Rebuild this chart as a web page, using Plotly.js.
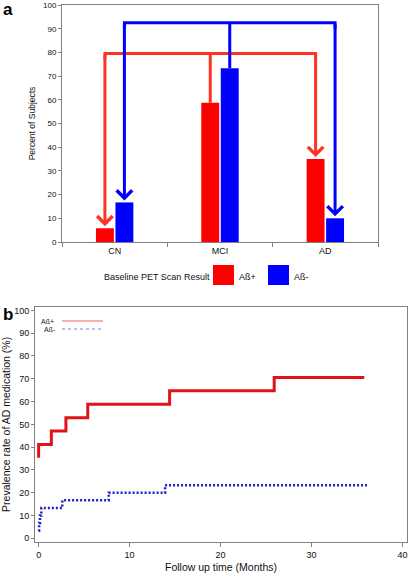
<!DOCTYPE html>
<html><head><meta charset="utf-8">
<script src="https://cdn.plot.ly/plotly-3.0.1.min.js"></script>
<style>html,body{margin:0;padding:0;background:#fff}#chart{width:410px;height:577px}</style>
</head><body><div id="chart"></div>
<script>
// ---------- Panel a data ----------
const groups = ['CN', 'MCI', 'AD'];
const seriesNames = ['Aß+', 'Aß-'];
const abPosPct = [5.8, 58.8, 35.0];
const abNegPct = [16.7, 73.3, 10.0];
const connectorPos = 79.5;   // level of the red connector (percent)
const connectorNeg = 92.5;   // level of the blue connector (percent)

// ---------- Panel b data ----------
const monthsPos = [0, 0, 1.4, 3.0, 5.4, 14.4, 25.9, 35.8];
const ratePos   = [35.3, 41.2, 47.1, 52.9, 58.8, 64.7, 70.6, 70.6];
const monthsNeg = [0, 0.05, 0.15, 0.3, 2.6, 7.7, 13.9, 36.1];
const rateNeg   = [3.3, 6.7, 10.0, 13.3, 16.7, 20.0, 23.3, 23.3];

// ---------- styling ----------
const W = 410, H = 577;
const px = v => v / W, py = v => 1 - v / H;
const FONT = 'Liberation Sans, Arial, sans-serif';
const RED = '#ff0000', BLUE = '#0000ff';
const RED_LINK = '#ff3322', BLUE_LINK = '#0000ff';
const AXC = '#808080';
const BARGAP = 0.63, BARGROUPGAP = 0.08;
const slot = (1 - BARGAP) / 2;
const offPos = -slot / 2, offNeg = slot / 2;
const CORNER = 2.5;

const traces = [
  {type: 'bar', x: groups, y: abPosPct, name: seriesNames[0], marker: {color: RED}, xaxis: 'x', yaxis: 'y', showlegend: false},
  {type: 'bar', x: groups, y: abNegPct, name: seriesNames[1], marker: {color: BLUE}, xaxis: 'x', yaxis: 'y', showlegend: false},
  {type: 'scatter', mode: 'lines', x: monthsPos, y: ratePos, name: seriesNames[0], line: {color: '#e3121a', width: 3, shape: 'hv'}, xaxis: 'x2', yaxis: 'y2', showlegend: false},
  {type: 'scatter', mode: 'lines', x: monthsNeg, y: rateNeg, name: seriesNames[1], line: {color: '#1c1cc8', width: 2.5, shape: 'hv', dash: '2px,2px'}, xaxis: 'x2', yaxis: 'y2', showlegend: false}
];

// connectors (bracket) from MCI to CN and AD
function bracketPath(off, vals, level) {
  const x0 = 0 + off, x1 = 1 + off, x2 = 2 + off;
  return `M ${x0},${level - CORNER} V ${level} H ${x2} V ${level - CORNER} M ${x1},${vals[1]} V ${level}`;
}
const shapes = [
  {type: 'path', xref: 'x', yref: 'y', path: bracketPath(offPos, abPosPct, connectorPos), line: {color: RED_LINK, width: 3}},
  {type: 'path', xref: 'x', yref: 'y', path: bracketPath(offNeg, abNegPct, connectorNeg), line: {color: BLUE_LINK, width: 3}},
  // legend a swatches
  {type: 'rect', xref: 'paper', yref: 'paper', x0: px(213), x1: px(234), y0: py(285), y1: py(265), fillcolor: RED, line: {width: 0}},
  {type: 'rect', xref: 'paper', yref: 'paper', x0: px(268), x1: px(289), y0: py(285), y1: py(265), fillcolor: BLUE, line: {width: 0}},
  // legend b lines
  {type: 'line', xref: 'paper', yref: 'paper', x0: px(62), x1: px(103), y0: py(321), y1: py(321), line: {color: '#ee6666', width: 1}},
  {type: 'line', xref: 'paper', yref: 'paper', x0: px(62), x1: px(103), y0: py(329), y1: py(329), line: {color: '#7777ee', width: 1, dash: 'dot'}}
];

function arrow(xv, yv, level, color) {
  return {x: xv, y: yv, ax: xv, ay: level, xref: 'x', yref: 'y', axref: 'x', ayref: 'y', text: '',
    showarrow: true, arrowhead: 4, arrowsize: 1.0, arrowwidth: 3, arrowcolor: color, standoff: 2};
}
const annotations = [
  arrow(0 + offPos, abPosPct[0], connectorPos, RED_LINK),
  arrow(2 + offPos, abPosPct[2], connectorPos, RED_LINK),
  arrow(0 + offNeg, abNegPct[0], connectorNeg, BLUE_LINK),
  arrow(2 + offNeg, abNegPct[2], connectorNeg, BLUE_LINK),
  // legend a
  {xref: 'paper', yref: 'paper', x: px(102), y: py(277), xanchor: 'left', yanchor: 'middle', showarrow: false, text: 'Baseline PET Scan Result', font: {size: 9, color: '#111'}},
  {xref: 'paper', yref: 'paper', x: px(237), y: py(277), xanchor: 'left', yanchor: 'middle', showarrow: false, text: seriesNames[0], font: {size: 9, color: '#111'}},
  {xref: 'paper', yref: 'paper', x: px(292), y: py(277), xanchor: 'left', yanchor: 'middle', showarrow: false, text: seriesNames[1], font: {size: 9, color: '#111'}},
  // legend b
  {xref: 'paper', yref: 'paper', x: px(39), y: py(321), xanchor: 'left', yanchor: 'middle', showarrow: false, text: seriesNames[0], font: {size: 7, color: '#222'}},
  {xref: 'paper', yref: 'paper', x: px(42), y: py(329), xanchor: 'left', yanchor: 'middle', showarrow: false, text: seriesNames[1], font: {size: 7, color: '#222'}},
  // panel labels
  {xref: 'paper', yref: 'paper', x: px(1), y: py(10), xanchor: 'left', yanchor: 'middle', showarrow: false, text: '<b>a</b>', font: {size: 17, color: '#000'}},
  {xref: 'paper', yref: 'paper', x: px(1), y: py(314), xanchor: 'left', yanchor: 'middle', showarrow: false, text: '<b>b</b>', font: {size: 17, color: '#000'}}
];

const axCommon = {showline: true, linecolor: AXC, linewidth: 1, mirror: true, ticks: 'outside', tickcolor: AXC,
  showgrid: false, zeroline: false, fixedrange: true};

const layout = {
  width: W, height: H,
  margin: {l: 0, r: 0, t: 0, b: 0},
  paper_bgcolor: '#fff', plot_bgcolor: '#fff',
  font: {family: FONT, color: '#111'},
  showlegend: false,
  barmode: 'group', bargap: BARGAP, bargroupgap: BARGROUPGAP,
  xaxis: Object.assign({}, axCommon, {domain: [px(62), px(378)], anchor: 'y', type: 'category',
    tickson: 'boundaries', ticklen: 4, tickfont: {size: 9}}),
  yaxis: Object.assign({}, axCommon, {domain: [py(242), py(5)], anchor: 'x', range: [0, 100], dtick: 10,
    ticklen: 3, tickfont: {size: 8}, title: {text: 'Percent of Subjects', font: {size: 8.5}, standoff: 6}}),
  xaxis2: Object.assign({}, axCommon, {domain: [px(35), px(407)], anchor: 'y2', range: [-0.4, 40.5], dtick: 10,
    ticklen: 4, tickfont: {size: 9}, title: {text: 'Follow up time (Months)', font: {size: 10.5}, standoff: 5}}),
  yaxis2: Object.assign({}, axCommon, {domain: [py(541.7), py(307)], anchor: 'x2', range: [-1.5, 101.5], dtick: 10,
    ticklen: 3, tickfont: {size: 9}, title: {text: 'Prevalence rate of AD medication (%)', font: {size: 10.5}, standoff: 4}}),
  shapes: shapes,
  annotations: annotations
};

Plotly.newPlot('chart', traces, layout, {displayModeBar: false, staticPlot: true});
</script></body></html>
